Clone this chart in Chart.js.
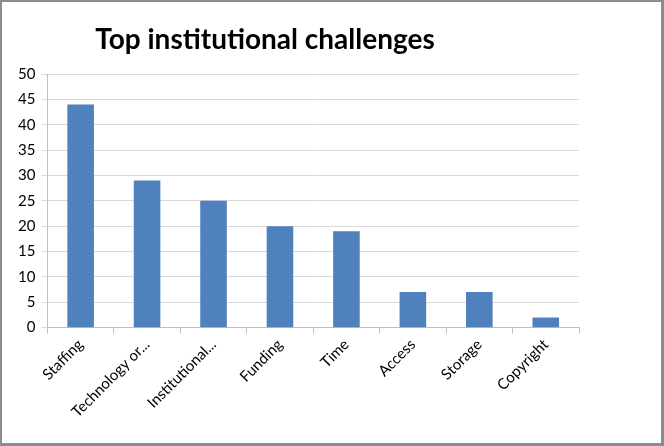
<!DOCTYPE html>
<html>
<head>
<meta charset="utf-8">
<script src="https://cdn.jsdelivr.net/npm/chart.js@4/dist/chart.umd.min.js"></script>
<style>
  html, body { margin: 0; padding: 0; background: #fff; }
  #wrap {
    width: 664px; height: 446px; box-sizing: border-box;
    border-left: 2px solid #8c8c8c; border-top: 2px solid #8c8c8c;
    border-right: 3px solid #8c8c8c; border-bottom: 3px solid #8c8c8c;
  }
  canvas { display: block; }
</style>
</head>
<body>
<div id="wrap"><canvas id="chart" width="659" height="441"></canvas></div>
<script>
// Chart data
const categories = ['Staffing', 'Technology or...', 'Institutional...', 'Funding', 'Time', 'Access', 'Storage', 'Copyright'];
const challengeCounts = [44, 29, 25, 20, 19, 7, 7, 2];
const yTicks = [0, 5, 10, 15, 20, 25, 30, 35, 40, 45, 50];
const chartTitle = 'Top institutional challenges';

const fontFamily = 'Lato, "Open Sans", sans-serif';

// Draw the title a little left of the plot centre, like the original
const titlePlugin = {
    id: 'leftTitle',
    afterDraw(chart) {
        const ctx = chart.ctx;
        ctx.save();
        ctx.font = 'bold 28px ' + fontFamily;
        ctx.fillStyle = '#000';
        ctx.textAlign = 'center';
        ctx.textBaseline = 'middle';
        ctx.fillText(chartTitle, 263, 38);
        ctx.restore();
    }
};

const ctx = document.getElementById('chart').getContext('2d');
new Chart(ctx, {
    type: 'bar',
    data: {
        labels: categories,
        datasets: [{
            label: 'Challenges',
            data: challengeCounts,
            backgroundColor: '#4f81bd',
            borderWidth: 0,
            barPercentage: 0.4,
            categoryPercentage: 1.0
        }]
    },
    options: {
        responsive: false,
        animation: false,
        devicePixelRatio: 1,
        layout: {
            padding: { top: 72, right: 82, bottom: 20, left: 10 }
        },
        plugins: {
            legend: { display: false },
            tooltip: { enabled: false }
        },
        scales: {
            x: {
                grid: {
                    offset: true,
                    drawOnChartArea: false,
                    color: '#bfbfbf',
                    tickLength: 6
                },
                border: { color: '#bfbfbf' },
                ticks: {
                    minRotation: 45,
                    maxRotation: 45,
                    autoSkip: false,
                    color: '#000',
                    font: { family: fontFamily, size: 15 },
                    padding: 2
                }
            },
            y: {
                min: 0,
                max: 50,
                afterBuildTicks(axis) {
                    axis.ticks = yTicks.map(v => ({ value: v }));
                },
                grid: {
                    color: '#d9d9d9',
                    tickLength: 6
                },
                border: { color: '#bfbfbf' },
                ticks: {
                    color: '#000',
                    font: { family: fontFamily, size: 15 },
                    padding: 6
                }
            }
        }
    },
    plugins: [titlePlugin]
});
</script>
</body>
</html>
